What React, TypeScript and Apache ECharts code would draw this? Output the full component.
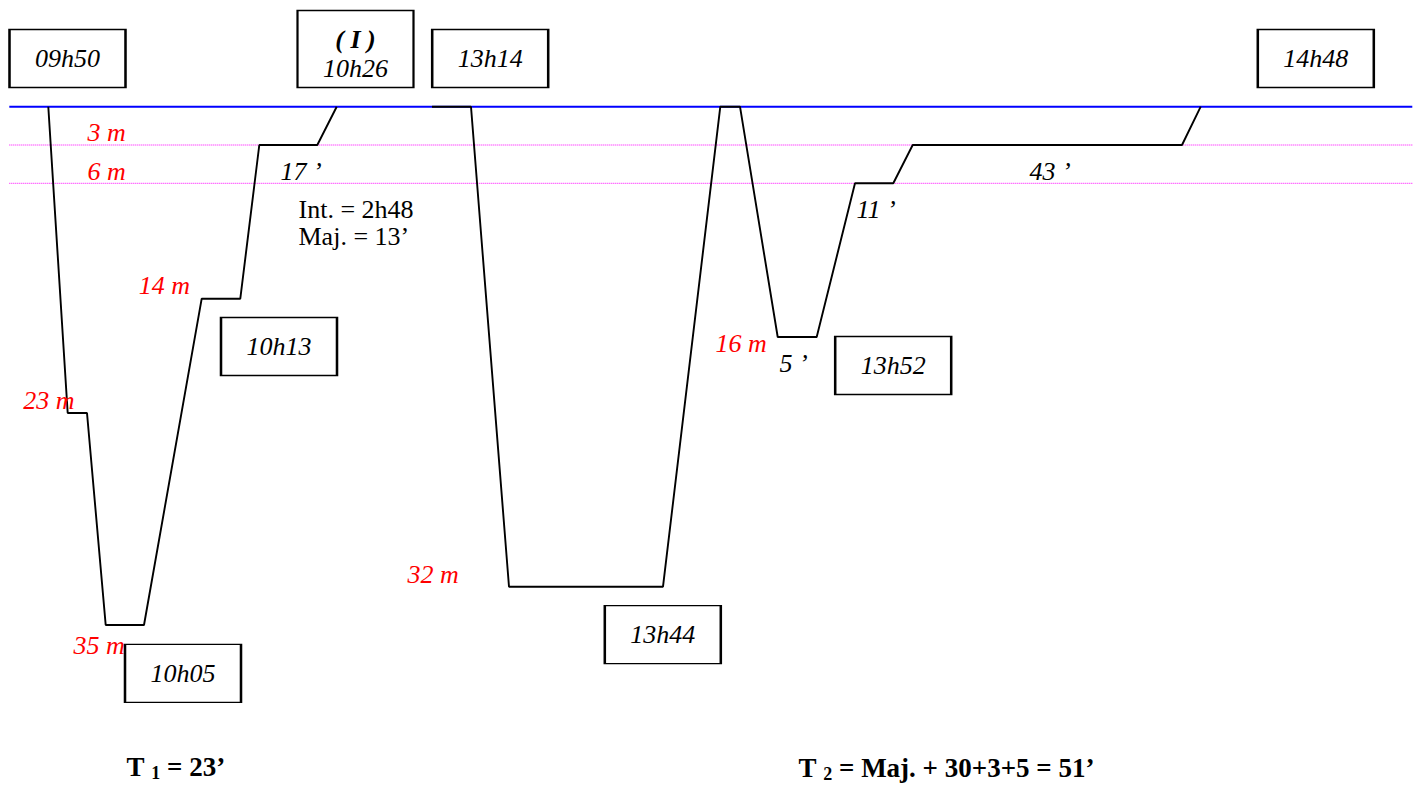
import React, { useEffect, useRef } from "react";
import * as echarts from "echarts";

// ---- data (drawing units: x along the dive time line, y = depth position, 0 at top of page) ----
const surfaceLevel = 106.7;
const stop3Level = 145;
const stop6Level = 183.3;
const lineStartX = 9.3;
const lineEndX = 1412.3;

const dive1X = [48.3, 67.7, 87, 105.7, 144, 201.7, 240.3, 259.3, 317.3, 336.7];
const dive1Depth = [106.7, 413, 413, 625, 625, 298.7, 298.7, 145, 145, 106.7];

const dive2X = [432, 471, 509, 663, 720.3, 740, 777.7, 816.7, 855, 893.3, 912.7, 1182, 1200.7];
const dive2Depth = [106.7, 106.7, 586.7, 586.7, 106.7, 106.7, 337, 337, 183.3, 183.3, 145, 145, 106.7];

const timeLabels = ["09h50", "13h14", "14h48", "10h13", "13h52", "10h05", "13h44"];
const timeLabelX = [67.5, 490.2, 1315.8, 279, 893.2, 183, 662.8];
const timeLabelY = [58.5, 58.5, 58.5, 346.5, 365.5, 673.3, 634.7];

const groupLabel = "( I )";
const groupTime = "10h26";
const groupX = 355.5;
const groupY = 49;

const depthLabels = ["3 m", "6 m", "14 m", "23 m", "35 m", "32 m", "16 m"];
const depthLabelX = [87, 87, 138.3, 22.7, 73, 407, 715];
const depthLabelBase = [141, 180, 294, 409, 654, 583, 352];

const durationLabels = ["17 \u2019", "11 \u2019", "5 \u2019", "43 \u2019"];
const durationX = [280, 856, 779, 1029];
const durationBase = [180, 218, 372, 180];

const noteLabels = ["Int. = 2h48", "Maj. = 13\u2019"];
const noteX = [298, 298];
const noteBase = [218.3, 245];

const totalSubs = ["1", "2"];
const totalRests = [" = 23\u2019", " = Maj. + 30+3+5 = 51\u2019"];
const totalX = [126, 798];
const totalBase = [776, 777];

const FONT = "'Liberation Serif', 'Times New Roman', Times, serif";
const FS = 26;
const CENTER_SHIFT = 0.3375 * FS;

export default function App() {
  const ref = useRef<HTMLDivElement>(null);

  useEffect(() => {
    if (!ref.current) return;
    const chart = echarts.init(ref.current, null, { renderer: "svg" });

    const hline = (y: number, color: string, width: number, type: any, z: number) => ({
      type: "line",
      data: [
        [lineStartX, y],
        [lineEndX, y],
      ],
      symbol: "none",
      silent: true,
      z,
      lineStyle: { color, width, type },
    });

    const textSeries = (
      items: { name: string; value: number[] }[],
      label: any,
      z: number
    ) => ({
      type: "scatter",
      data: items,
      symbolSize: 1,
      itemStyle: { color: "rgba(0,0,0,0)", opacity: 1 },
      silent: true,
      z,
      label: {
        show: true,
        position: "right",
        distance: 0,
        formatter: "{b}",
        fontFamily: FONT,
        ...label,
      },
    });

    const option: any = {
      animation: false,
      backgroundColor: "#ffffff",
      grid: { left: 0, right: 0, top: 0, bottom: 0 },
      xAxis: { type: "value", min: 0, max: 1415, show: false },
      yAxis: { type: "value", min: 0, max: 785, inverse: true, show: false },
      series: [
        hline(stop3Level, "#ff00ff", 1, "dotted", 1),
        hline(stop6Level, "#ff00ff", 1, "dotted", 1),
        hline(surfaceLevel, "#0000ff", 2, "solid", 2),
        {
          type: "line",
          data: dive1X.map((x, i) => [x, dive1Depth[i]]),
          symbol: "none",
          z: 3,
          lineStyle: { color: "#000000", width: 1.9 },
        },
        {
          type: "line",
          data: dive2X.map((x, i) => [x, dive2Depth[i]]),
          symbol: "none",
          z: 3,
          lineStyle: { color: "#000000", width: 1.9 },
        },
        textSeries(
          depthLabels.map((n, i) => ({ name: n, value: [depthLabelX[i], depthLabelBase[i] - CENTER_SHIFT] })),
          { fontSize: FS, fontStyle: "italic", color: "#ff0000" },
          4
        ),
        textSeries(
          durationLabels.map((n, i) => ({ name: n, value: [durationX[i], durationBase[i] - CENTER_SHIFT] })),
          { fontSize: FS, fontStyle: "italic", color: "#000000" },
          4
        ),
        textSeries(
          noteLabels.map((n, i) => ({ name: n, value: [noteX[i], noteBase[i] - CENTER_SHIFT] })),
          { fontSize: FS, color: "#000000" },
          4
        ),
        textSeries(
          totalSubs.map((s, i) => ({ name: s, value: [totalX[i], totalBase[i] - 9.1] })),
          {
            formatter: (p: any) => `{a|T }{s|${totalSubs[p.dataIndex]}}{a|${totalRests[p.dataIndex]}}`,
            rich: {
              a: { fontFamily: FONT, fontSize: 27, fontWeight: "bold", color: "#000", lineHeight: 30 },
              s: {
                fontFamily: FONT,
                fontSize: 18,
                fontWeight: "bold",
                color: "#000",
                lineHeight: 14,
                verticalAlign: "bottom",
              },
            },
          },
          4
        ),
        {
          type: "scatter",
          data: timeLabels.map((n, i) => ({ name: n, value: [timeLabelX[i], timeLabelY[i]] })),
          symbol: "rect",
          symbolSize: [116, 58],
          silent: true,
          z: 6,
          itemStyle: { color: "#ffffff", borderColor: "#000000", borderWidth: 1.8, opacity: 1 },
          label: {
            show: true,
            position: "inside",
            formatter: "{b}",
            fontFamily: FONT,
            fontSize: FS,
            fontStyle: "italic",
            color: "#000000",
          },
        },
        {
          type: "scatter",
          data: [{ name: groupTime, value: [groupX, groupY] }],
          symbol: "rect",
          symbolSize: [116, 77],
          silent: true,
          z: 6,
          itemStyle: { color: "#ffffff", borderColor: "#000000", borderWidth: 1.8, opacity: 1 },
          label: {
            show: true,
            position: "inside",
            offset: [0, 5],
            formatter: `{b|${groupLabel}}\n{i|${groupTime}}`,
            rich: {
              b: { fontFamily: FONT, fontSize: FS, fontStyle: "italic", fontWeight: "bold", color: "#000", lineHeight: 28.4 },
              i: { fontFamily: FONT, fontSize: FS, fontStyle: "italic", color: "#000", lineHeight: 28.4 },
            },
          },
        },
      ],
    };

    chart.setOption(option);
    return () => chart.dispose();
  }, []);

  return (
    <div
      ref={ref}
      style={{ position: "fixed", left: 0, top: 0, width: 1415, height: 785, background: "#fff" }}
    />
  );
}
